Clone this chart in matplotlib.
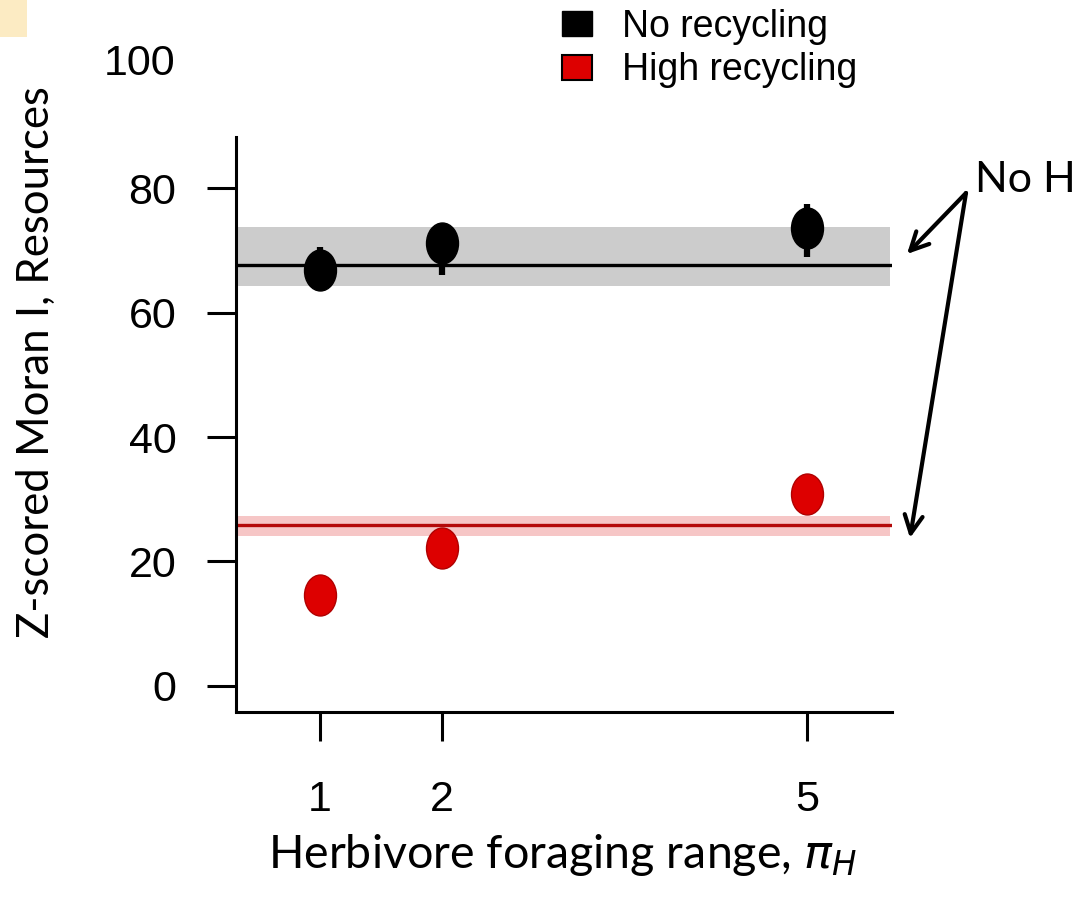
import numpy as np
import matplotlib.pyplot as plt
import matplotlib.path as mpath
from matplotlib.patches import Patch, Rectangle

# foraging range values and z-scored Moran I
foraging = [1, 2, 5]

noRecMean = [66.8, 71.2, 73.5]
noRecLow = [64.8, 66.0, 68.9]
noRecHigh = [70.5, 73.0, 77.5]

highRecMean = [14.6, 22.1, 30.8]
highRecLow = [13.6, 21.1, 27.8]
highRecHigh = [15.6, 23.1, 32.5]

# "No H" reference levels (line and band)
noHBlack = 67.6
noHBlackBand = [64.3, 73.8]
noHRed = 25.9
noHRedBand = [24.1, 27.3]

yTicks = [0, 20, 40, 60, 80]
legendLabels = ["No recycling", "High recycling"]

W, H = 1086, 901
fig = plt.figure(figsize=(W / 100, H / 100), dpi=100)
ax = fig.add_axes([236 / W, 1 - 711.5 / H, (892 - 236) / W, (711.5 - 137) / H])
ax.set_xlim(0.31, 5.70)
ax.set_ylim(-4.1, 88.2)

# slightly tall ellipse marker, like the stretched original
circ = mpath.Path.unit_circle()
ellipse = mpath.Path(circ.vertices * np.array([0.78, 1.0]), circ.codes)

# reference bands and lines
ax.axhspan(noHBlackBand[0], noHBlackBand[1], xmin=0, xmax=0.997, color="#cccccc", lw=0, zorder=1)
ax.axhline(noHBlack, xmin=0, xmax=0.997, color="black", lw=2.4, zorder=2)
ax.axhspan(noHRedBand[0], noHRedBand[1], xmin=0, xmax=0.997, color="#f6c6c6", lw=0, zorder=1)
ax.axhline(noHRed, xmin=0, xmax=0.997, color="#b40a0a", lw=2.4, zorder=2)

# error bars
ax.vlines(foraging, noRecLow, noRecHigh, color="black", lw=4.5, zorder=3)
ax.vlines(foraging, highRecLow, highRecHigh, color="#c80000", lw=4.5, zorder=3)

# points
ax.plot(foraging, noRecMean, ls="none", marker=ellipse, markersize=29.5,
        mfc="black", mec="black", zorder=4)
ax.plot(foraging, highRecMean, ls="none", marker=ellipse, markersize=29.5,
        mfc="#dd0000", mec="#b00000", mew=1.0, zorder=4)

# axes styling (R-like L shape)
for s in ["top", "right"]:
    ax.spines[s].set_visible(False)
for s in ["left", "bottom"]:
    ax.spines[s].set_linewidth(2.2)

tickFont = "Liberation Sans"
ax.set_xticks(foraging)
ax.set_xticklabels([str(v) for v in foraging], fontsize=31, family=tickFont)
ax.set_yticks(yTicks)
ax.set_yticklabels([str(v) for v in yTicks], fontsize=31, family=tickFont)
ax.tick_params(axis="both", direction="out", length=21, width=2.2)
ax.tick_params(axis="y", pad=22)
ax.tick_params(axis="x", pad=28)

# the "100" label sitting above the clipped axis
ax.text(-0.093, 100, "100", transform=ax.get_yaxis_transform(), ha="right", va="center",
        fontsize=31, family=tickFont, clip_on=False)

# axis titles
fig.text(36 / W, 1 - 362 / H, "Z-scored Moran I, Resources", rotation=90,
         ha="center", va="center", fontsize=31.5, family="Lato")
fig.text(562 / W, 1 - 855 / H, r"Herbivore foraging range, $\pi_H$",
         ha="center", va="center", fontsize=33.5, family="Lato")

# legend
handles = [Patch(facecolor="black", edgecolor="black", lw=1),
           Patch(facecolor="#dd0000", edgecolor="black", lw=1.5)]
fig.legend(handles, legendLabels, loc="upper left", bbox_to_anchor=(547 / W, 1 + 6 / H),
           frameon=False, prop={"family": tickFont, "size": 27},
           handlelength=0.8, handleheight=0.65, handletextpad=0.8, labelspacing=0.2,
           borderaxespad=0)

# "No H" annotation with arrows
fig.text(975 / W, 1 - 180 / H, "No H", ha="left", va="center", fontsize=31,
         family="Lato")
startPt = (966 / W, 1 - 193 / H)
for tip in [(907 / W, 1 - 254 / H), (910 / W, 1 - 538 / H)]:
    ax.annotate("", xy=tip, xycoords="figure fraction", xytext=startPt,
                textcoords="figure fraction",
                arrowprops=dict(arrowstyle="->,head_length=1.3,head_width=0.65",
                                lw=3, color="black", shrinkA=0, shrinkB=0),
                annotation_clip=False)

# small peach block at the top-left corner
fig.patches.append(Rectangle((0, 1 - 37 / H), 27 / W, 37 / H, transform=fig.transFigure,
                             facecolor="#fcebc3", edgecolor="none"))

fig.savefig("out.png", dpi=100)
